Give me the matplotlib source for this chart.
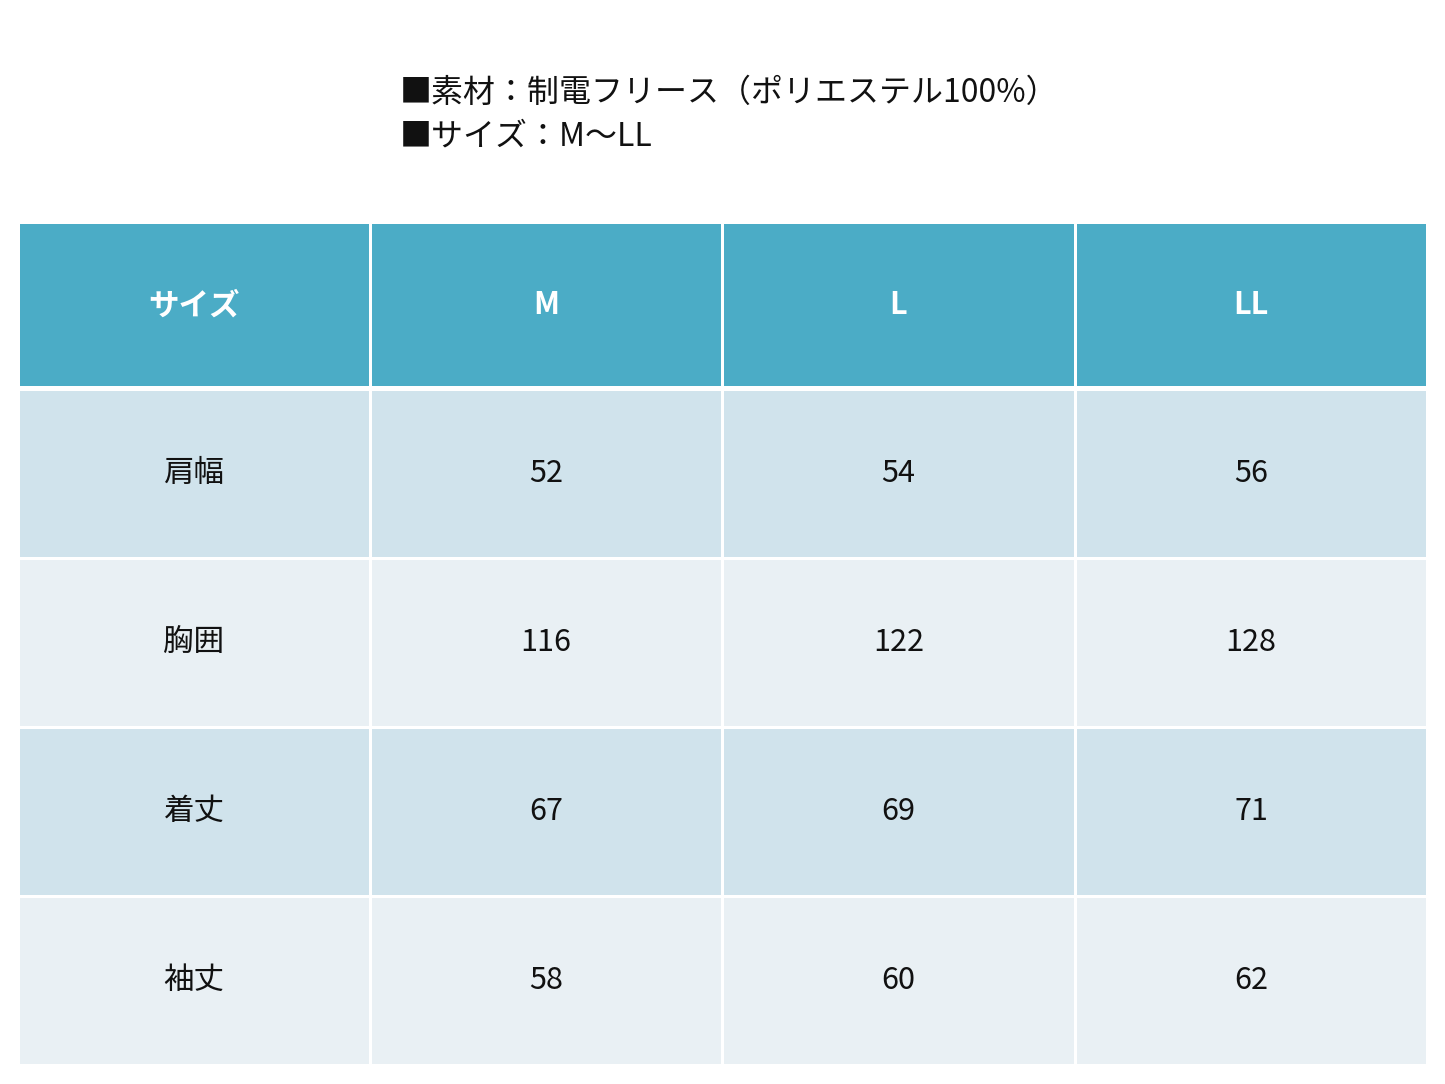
import matplotlib
matplotlib.use("Agg")
import matplotlib.pyplot as plt
from matplotlib.patches import Rectangle

plt.rcParams['font.family'] = ['Noto Sans CJK JP', 'DejaVu Sans']

title_lines = ["■素材：制電フリース（ポリエステル100%）", "■サイズ：M～LL"]
header = ["サイズ", "M", "L", "LL"]
row_labels = ["肩幅", "胸囲", "着丈", "袖丈"]
values = [[52, 54, 56], [116, 122, 128], [67, 69, 71], [58, 60, 62]]

W, H = 1445, 1084
fig = plt.figure(figsize=(W/100, H/100), dpi=100)
ax = fig.add_axes([0, 0, 1, 1])
ax.set_xlim(0, W); ax.set_ylim(H, 0); ax.axis('off')

ax.text(400, 93, title_lines[0], fontsize=23, va='center', ha='left', color='#111')
ax.text(400, 137, title_lines[1], fontsize=23, va='center', ha='left', color='#111')

cols = [18, 370, 722, 1075, 1427]
rows = [222, 389, 558, 727, 896, 1065]
gap = 1.5
colors = ['#4BACC6', '#D0E3EC', '#E9F0F4', '#D0E3EC', '#E9F0F4']
for r in range(5):
    for c in range(4):
        x0, x1 = cols[c], cols[c+1]
        y0, y1 = rows[r], rows[r+1]
        ax.add_patch(Rectangle((x0+gap, y0+gap), x1-x0-2*gap, y1-y0-2*gap,
                               facecolor=colors[r], edgecolor='none'))
        cx, cy = (x0+x1)/2, (y0+y1)/2
        if r == 0:
            ax.text(cx, cy, header[c], fontsize=22, fontweight='bold', color='white',
                    ha='center', va='center')
        else:
            txt = row_labels[r-1] if c == 0 else str(values[r-1][c-1])
            ax.text(cx, cy, txt, fontsize=22, color='#111', ha='center', va='center')
# thicker white separator under header
ax.add_patch(Rectangle((18, 386), 1409, 5, facecolor='white', edgecolor='none'))
fig.savefig("out.png", dpi=100, facecolor='white')
